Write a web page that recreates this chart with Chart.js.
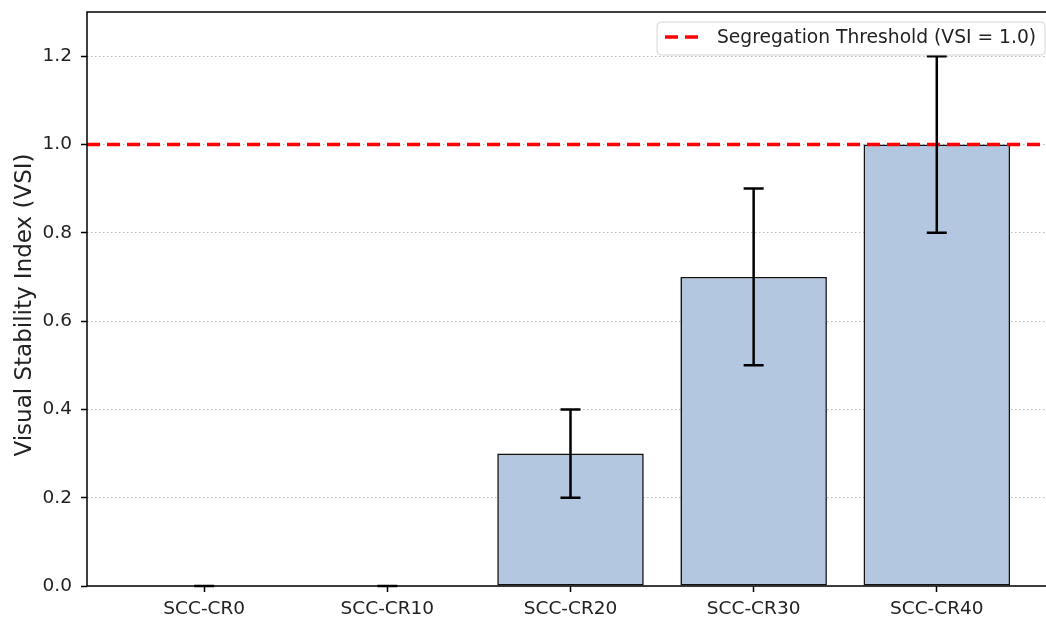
<!DOCTYPE html>
<html>
<head>
<meta charset="utf-8">
<script src="https://cdn.jsdelivr.net/npm/chart.js@4.4.1/dist/chart.umd.min.js"></script>
<style>
  html, body { margin: 0; padding: 0; background: #fff; overflow: hidden; }
  #wrap { position: relative; width: 1070px; height: 617px; }
</style>
</head>
<body>
<div id="wrap"><canvas id="vsi-chart" width="1070" height="617"></canvas></div>
<script>
'use strict';
// mixes and their visual stability index (mean and spread)
var mixes = ['SCC-CR0', 'SCC-CR10', 'SCC-CR20', 'SCC-CR30', 'SCC-CR40'];
var vsiMean = [0, 0, 0.3, 0.7, 1.0];
var vsiError = [0, 0, 0.1, 0.2, 0.2];
var yTicks = [0, 0.2, 0.4, 0.6, 0.8, 1.0, 1.2];
var thresholdValue = 1.0;
var thresholdLabel = 'Segregation Threshold (VSI = 1.0)';
var yTitle = 'Visual Stability Index (VSI)';

var xMin = -0.64, xMax = 4.64;
var FONT = 'DejaVu Sans';

Chart.defaults.font.family = FONT;
Chart.defaults.color = '#000';

// [ error bars ] start
var errorBars = {
    id: 'errorBars',
    afterDatasetsDraw: function(chart) {
        var xs = chart.scales.x, ys = chart.scales.y, ctx = chart.ctx;
        ctx.save();
        ctx.strokeStyle = '#000';
        ctx.lineWidth = 2.5;
        vsiMean.forEach(function(v, i) {
            var x = xs.getPixelForValue(i);
            var lo = ys.getPixelForValue(v - vsiError[i]);
            var hi = ys.getPixelForValue(v + vsiError[i]);
            ctx.beginPath();
            ctx.moveTo(x, lo); ctx.lineTo(x, hi);
            ctx.moveTo(x - 10, lo); ctx.lineTo(x + 10, lo);
            ctx.moveTo(x - 10, hi); ctx.lineTo(x + 10, hi);
            ctx.stroke();
        });
        ctx.restore();
    }
};
// [ error bars ] end

// [ frame + legend + y title ] start
var frame = {
    id: 'frame',
    afterDraw: function(chart) {
        var a = chart.chartArea, ctx = chart.ctx;
        ctx.save();
        ctx.strokeStyle = '#000';
        ctx.lineWidth = 1.5;
        ctx.beginPath();
        ctx.moveTo(a.left, a.top); ctx.lineTo(a.right, a.top);
        ctx.lineTo(a.right, a.bottom); ctx.lineTo(a.left, a.bottom);
        ctx.closePath();
        ctx.stroke();

        // legend box, upper right
        var bx = 657, by = 22, bw = 388, bh = 33, r = 4;
        ctx.beginPath();
        ctx.moveTo(bx + r, by);
        ctx.arcTo(bx + bw, by, bx + bw, by + bh, r);
        ctx.arcTo(bx + bw, by + bh, bx, by + bh, r);
        ctx.arcTo(bx, by + bh, bx, by, r);
        ctx.arcTo(bx, by, bx + bw, by, r);
        ctx.closePath();
        ctx.fillStyle = 'rgba(255,255,255,0.85)';
        ctx.fill();
        ctx.lineWidth = 1;
        ctx.strokeStyle = '#d6d6d6';
        ctx.stroke();

        ctx.beginPath();
        ctx.setLineDash([13, 7]);
        ctx.strokeStyle = '#ff0000';
        ctx.lineWidth = 3.4;
        ctx.moveTo(665, by + 15); ctx.lineTo(699, by + 15);
        ctx.stroke();
        ctx.setLineDash([]);

        ctx.fillStyle = '#222';
        ctx.font = '18.7px "' + FONT + '"';
        ctx.textBaseline = 'middle';
        ctx.fillText(thresholdLabel, 717, by + 16);

        // rotated y-axis title
        ctx.translate(31, 305);
        ctx.rotate(-Math.PI / 2);
        ctx.font = '23px "' + FONT + '"';
        ctx.textAlign = 'center';
        ctx.textBaseline = 'alphabetic';
        ctx.fillText(yTitle, 0, 0);
        ctx.restore();
    }
};
// [ frame + legend + y title ] end

var ctx = document.getElementById('vsi-chart').getContext('2d');
var vsiChart = new Chart(ctx, {
    type: 'bar',
    data: {
        datasets: [{
            type: 'line',
            label: thresholdLabel,
            data: [{ x: xMin, y: thresholdValue }, { x: xMax, y: thresholdValue }],
            borderColor: '#ff0000',
            borderWidth: 3.4,
            borderDash: [13, 7],
            pointRadius: 0,
            order: 1
        }, {
            label: 'VSI',
            data: vsiMean.map(function(v, i) { return { x: i, y: v }; }),
            backgroundColor: 'rgba(176,196,222,0.95)',
            borderColor: '#111',
            borderWidth: 1.6,
            borderSkipped: false,
            barPercentage: 0.8,
            categoryPercentage: 1.0,
            order: 2
        }]
    },
    options: {
        responsive: false,
        animation: false,
        devicePixelRatio: 1,
        layout: { padding: { left: 0, top: 12, right: 16, bottom: 0 } },
        plugins: { legend: { display: false }, tooltip: { enabled: false } },
        scales: {
            x: {
                type: 'linear',
                min: xMin,
                max: xMax,
                offset: false,
                afterBuildTicks: function(scale) {
                    scale.ticks = mixes.map(function(m, i) { return { value: i }; });
                },
                afterFit: function(scale) {
                    scale.height = 31;
                    scale.paddingLeft = 0;
                    scale.paddingRight = 0;
                },
                ticks: {
                    autoSkip: false,
                    maxRotation: 0,
                    padding: 6,
                    font: { size: 18.5 },
                    color: '#222',
                    callback: function(v) { return mixes[v]; }
                },
                grid: {
                    offset: false,
                    drawOnChartArea: false,
                    tickLength: 6,
                    tickColor: '#000',
                    tickWidth: 1.5
                },
                border: { display: false }
            },
            y: {
                min: 0,
                max: 1.3,
                afterBuildTicks: function(scale) {
                    scale.ticks = yTicks.map(function(v) { return { value: v }; });
                },
                afterFit: function(scale) {
                    scale.width = 87;
                    scale.paddingTop = 0;
                    scale.paddingBottom = 0;
                },
                ticks: {
                    padding: 9,
                    font: { size: 18.5 },
                    color: '#222',
                    callback: function(v) { return v.toFixed(1); }
                },
                grid: {
                    color: 'rgba(170,170,170,0.8)',
                    lineWidth: 1,
                    tickLength: 6,
                    tickColor: '#000',
                    tickWidth: 1.5,
                    tickBorderDash: []
                },
                border: { display: false, dash: [1.5, 2.5] }
            }
        }
    },
    plugins: [errorBars, frame]
});
</script>
</body>
</html>
